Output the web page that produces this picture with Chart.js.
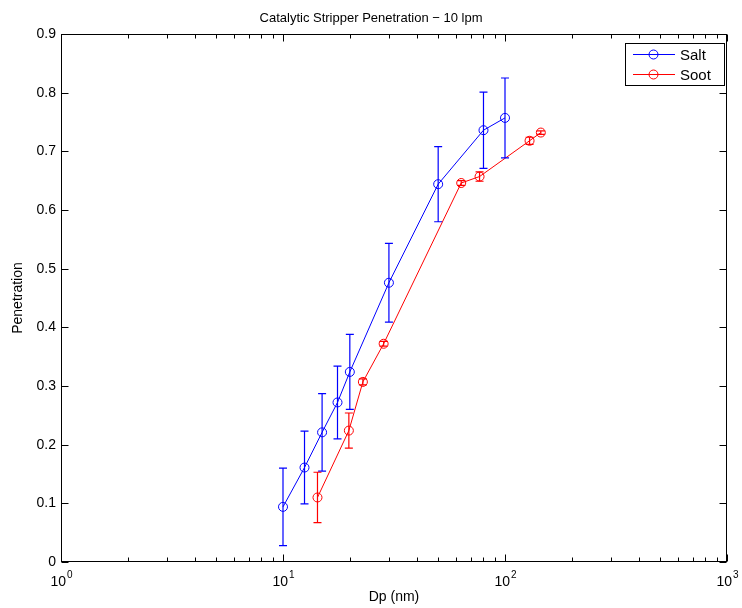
<!DOCTYPE html>
<html>
<head>
<meta charset="utf-8">
<style>
  html, body { margin: 0; padding: 0; background: #ffffff; }
  #wrap { width: 742px; height: 608px; }
</style>
<script src="https://cdn.jsdelivr.net/npm/chart.js@4/dist/chart.umd.min.js"></script>
</head>
<body>
<div id="wrap"><canvas id="c" width="742" height="608"></canvas></div>
<script>
// Salt aerosol penetration with error bars
const saltDp  = [10, 12.5, 15, 17.6, 20, 30, 50, 80, 100];
const saltPen = [0.094, 0.161, 0.221, 0.272, 0.324, 0.476, 0.644, 0.736, 0.757];
const saltErr = [0.066, 0.062, 0.066, 0.062, 0.064, 0.067, 0.064, 0.065, 0.068];

// Soot penetration with error bars
const sootDp  = [14.3, 19.8, 22.9, 28.4, 63.5, 76.8, 129, 145];
const sootPen = [0.110, 0.224, 0.307, 0.372, 0.646, 0.657, 0.718, 0.732];
const sootErr = [0.043, 0.030, 0.005, 0.004, 0.004, 0.008, 0.006, 0.003];

// Axis labelling
const xDecades = [0, 1, 2, 3];          // labels 10^0 ... 10^3
const yTicks   = [0, 0.1, 0.2, 0.3, 0.4, 0.5, 0.6, 0.7, 0.8, 0.9];
const titleText = 'Catalytic Stripper Penetration \u2212 10 lpm';
const xTitle = 'Dp (nm)';
const yTitle = 'Penetration';

const FONT = 'Liberation Sans, Arial, Helvetica, sans-serif';
const SALT_COLOR = 'rgb(0, 0, 255)';
const SOOT_COLOR = 'rgb(255, 0, 0)';

function toPoints(xs, ys) { return xs.map((x, i) => ({ x: x, y: ys[i] })); }

// Vertical error bars drawn from each series' error array
const errorSets = [
  { xs: saltDp, ys: saltPen, errs: saltErr, color: SALT_COLOR },
  { xs: sootDp, ys: sootPen, errs: sootErr, color: SOOT_COLOR }
];

const errorBars = {
  id: 'errorBars',
  afterDatasetsDraw(chart) {
    const ctx = chart.ctx;
    const xs = chart.scales.x, ys = chart.scales.y;
    errorSets.forEach((s) => {
      s.xs.forEach((xv, i) => {
        const e = s.errs[i];
        const px = xs.getPixelForValue(xv);
        const top = ys.getPixelForValue(s.ys[i] + e);
        const bot = ys.getPixelForValue(s.ys[i] - e);
        const cw = 4;
        ctx.save();
        ctx.strokeStyle = s.color;
        ctx.globalAlpha = 1;
        ctx.lineWidth = 1.2;
        ctx.beginPath();
        ctx.moveTo(px, top); ctx.lineTo(px, bot);
        ctx.moveTo(px - cw, top); ctx.lineTo(px + cw, top);
        ctx.moveTo(px - cw, bot); ctx.lineTo(px + cw, bot);
        ctx.stroke();
        ctx.restore();
      });
    });
  }
};

// Boxed frame with inward ticks on all four sides, log tick labels, title, legend
const frame = {
  id: 'frame',
  afterDraw(chart) {
    const { ctx, chartArea: a, scales: { x, y } } = chart;
    ctx.save();
    ctx.strokeStyle = '#000';
    ctx.lineWidth = 1;
    const L = Math.round(a.left) + 0.5, R = Math.round(a.right) - 0.5;
    const T = Math.round(a.top) + 0.5, B = Math.round(a.bottom) - 0.5;
    ctx.strokeRect(L, T, R - L, B - T);

    ctx.beginPath();
    // x ticks: majors at decades, minors at 2..9
    for (let d = xDecades[0]; d < xDecades[xDecades.length - 1] + 1; d++) {
      for (let m = 1; m <= 9; m++) {
        const v = m * Math.pow(10, d);
        if (v > x.max) break;
        const px = Math.round(x.getPixelForValue(v)) + 0.5;
        const len = m === 1 ? 7 : 4;
        ctx.moveTo(px, B); ctx.lineTo(px, B - len);
        ctx.moveTo(px, T); ctx.lineTo(px, T + len);
      }
    }
    // y ticks
    yTicks.forEach((v) => {
      const py = Math.round(y.getPixelForValue(v)) + 0.5;
      ctx.moveTo(L, py); ctx.lineTo(L + 7, py);
      ctx.moveTo(R, py); ctx.lineTo(R - 7, py);
    });
    ctx.stroke();

    // x tick labels as 10 with raised exponent
    ctx.fillStyle = '#000';
    ctx.textBaseline = 'alphabetic';
    xDecades.forEach((d) => {
      const px = x.getPixelForValue(Math.pow(10, d));
      ctx.font = '14px ' + FONT;
      const base = '10';
      const wb = ctx.measureText(base).width;
      ctx.font = '10px ' + FONT;
      const exp = String(d);
      const we = ctx.measureText(exp).width;
      const start = px - (wb + we) / 2;
      ctx.font = '14px ' + FONT;
      ctx.textAlign = 'left';
      ctx.fillText(base, start, 586);
      ctx.font = '10px ' + FONT;
      ctx.fillText(exp, start + wb + 1, 578);
    });

    // chart title
    ctx.font = '13px ' + FONT;
    ctx.textAlign = 'center';
    ctx.textBaseline = 'middle';
    ctx.fillText(titleText, 371, 18);

    // legend
    const lx = 625, ly = 43, lw = 99, lh = 42;
    ctx.fillStyle = '#fff';
    ctx.fillRect(lx, ly, lw, lh);
    ctx.strokeStyle = '#000';
    ctx.strokeRect(lx + 0.5, ly + 0.5, lw, lh);
    chart.data.datasets.forEach((ds, i) => {
      const yy = ly + 11 + i * 20 + 0.5;
      const col = errorSets[i].color;
      ctx.strokeStyle = col;
      ctx.beginPath();
      ctx.moveTo(lx + 8, yy); ctx.lineTo(lx + 50, yy);
      ctx.stroke();
      ctx.beginPath();
      ctx.arc(lx + 28.5, yy, 4.5, 0, Math.PI * 2);
      ctx.stroke();
      ctx.fillStyle = '#000';
      ctx.font = '15px ' + FONT;
      ctx.textAlign = 'left';
      ctx.textBaseline = 'middle';
      ctx.fillText(ds.label, lx + 55, yy + 1);
    });
    ctx.restore();
  }
};

function series(label, xs, ys, color) {
  return {
    label: label,
    data: toPoints(xs, ys),
    borderColor: color,
    backgroundColor: 'rgba(0,0,0,0)',
    borderWidth: 1,
    pointRadius: 4.5,
    pointHoverRadius: 4.5,
    pointBorderWidth: 1,
    pointBorderColor: color,
    pointBackgroundColor: 'rgba(0,0,0,0)',
    showLine: true,
    tension: 0
  };
}

new Chart(document.getElementById('c'), {
  type: 'scatter',
  data: {
    datasets: [
      series('Salt', saltDp, saltPen, SALT_COLOR),
      series('Soot', sootDp, sootPen, SOOT_COLOR)
    ]
  },
  options: {
    responsive: false,
    animation: false,
    devicePixelRatio: 1,
    layout: { padding: { left: 0, right: 15, top: 34, bottom: 0 } },
    plugins: {
      legend: { display: false },
      tooltip: { enabled: false },
      title: { display: false }
    },
    scales: {
      x: {
        type: 'logarithmic',
        min: 1,
        max: 1000,
        grid: { display: false, drawTicks: false },
        border: { display: false },
        ticks: { autoSkip: false, callback: () => '' },
        title: {
          display: true, text: xTitle, color: '#000',
          font: { family: FONT, size: 14 }, padding: { top: 0, bottom: 2 }
        },
        afterFit(s) { s.height = 46; }
      },
      y: {
        min: 0,
        max: 0.9,
        grid: { display: false, drawTicks: false },
        border: { display: false },
        ticks: {
          stepSize: 0.1,
          padding: 5,
          color: '#000',
          font: { family: FONT, size: 14 },
          callback: (v) => (Math.abs(v) < 1e-9 ? '0' : v.toFixed(1))
        },
        title: {
          display: true, text: yTitle, color: '#000',
          font: { family: FONT, size: 14 }, padding: { top: 10, bottom: 0 }
        },
        afterFit(s) { s.width = 61; }
      }
    }
  },
  plugins: [errorBars, frame]
});
</script>
</body>
</html>
